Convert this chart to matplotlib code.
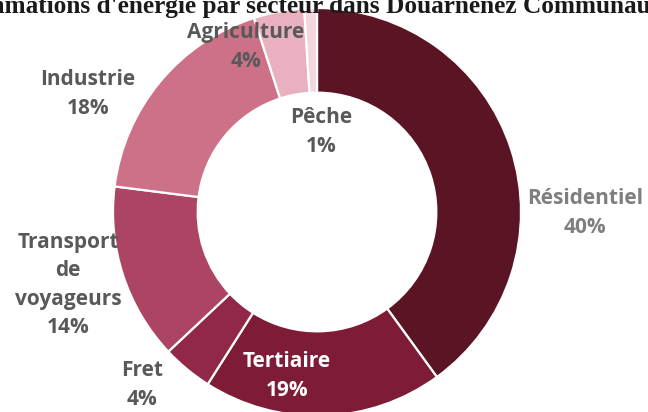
import matplotlib
matplotlib.use("Agg")
import matplotlib.pyplot as plt

# données
secteurs = ["Résidentiel", "Tertiaire", "Fret", "Transport\nde\nvoyageurs",
            "Industrie", "Agriculture", "Pêche"]
parts = [40, 19, 4, 14, 18, 4, 1]
couleurs = ["#5b1424", "#7e1b36", "#922848", "#ab4563",
            "#cd7189", "#e9b1c0", "#f4d6de"]

# positions des étiquettes (pixels depuis le coin haut-gauche) et couleurs du texte
label_pos = [(585, 213), (287, 376), (142, 385), (68, 285),
             (88, 94), (246, 47), (321, 132)]
label_col = ["#7f7f7f", "white", "#595959", "#595959",
             "#595959", "#595959", "#595959"]

W, H = 648, 412
fig = plt.figure(figsize=(W / 100, H / 100), dpi=100)
ax = fig.add_axes([0, 0, 1, 1])

wedges, _ = ax.pie(parts, colors=couleurs, startangle=90, counterclock=False,
                   radius=1, wedgeprops=dict(width=0.415, edgecolor="white",
                                             linewidth=1.6))

# léger contour gris autour de l'anneau
ax.add_patch(plt.Circle((0, 0), 1.0, fill=False, edgecolor="#c8c8c8",
                        linewidth=0.8, zorder=0))

# cadrage : centre de l'anneau à (317, 212) px, rayon 204 px
R = 204.0
cx, cy = 317, 212
ax.set_aspect("auto")
ax.set_xlim(-cx / R, (W - cx) / R)
ax.set_ylim(-(H - cy) / R, cy / R)
ax.axis("off")

for nom, p, (px, py), c in zip(secteurs, parts, label_pos, label_col):
    ax.text(px / W, 1 - py / H, f"{nom}\n{p}%", transform=ax.transAxes,
            ha="center", va="center", fontsize=15, fontweight="bold",
            family="Open Sans", color=c, linespacing=1.45)

fig.text(0.452, 1 - 13 / H,
         "Consommations d'énergie par secteur dans Douarnenez Communauté",
         ha="center", va="baseline", fontsize=18.2, fontweight="bold",
         family="Liberation Serif", color="#1a1a1a")

fig.savefig("out.png", dpi=100)
